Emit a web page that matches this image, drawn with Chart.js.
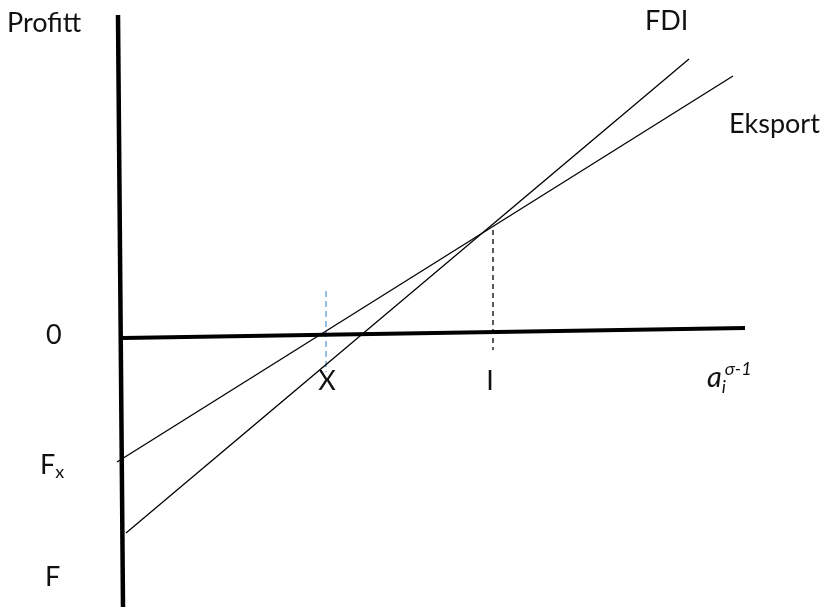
<!DOCTYPE html>
<html>
<head>
<meta charset="utf-8">
<script src="https://cdn.jsdelivr.net/npm/chart.js@4"></script>
<style>
  html, body { margin: 0; padding: 0; background: #fff; }
  #wrap { width: 825px; height: 610px; }
</style>
</head>
<body>
<div id="wrap"><canvas id="chart"></canvas></div>
<script>
// coordinates: origin where the axes cross, x to the right, y (profit) up
const yAxisLine = [{x: -2, y: 323}, {x: 3, y: -269}];
const xAxisLine = [{x: 3, y: 0}, {x: 625, y: 10}];
const eksport = [{x: -3, y: -124}, {x: 613, y: 262}];
const fdi = [{x: 6, y: -195}, {x: 569, y: 279}];
const dashX = [{x: 206, y: 47}, {x: 206, y: -34}];
const dashI = [{x: 373, y: 108}, {x: 373, y: -12}];

// label text and anchor (data units)
const labels = [
  {text: 'Profitt', x: -113, y: 306, align: 'left'},
  {text: 'FDI', x: 525, y: 308, align: 'left'},
  {text: 'Eksport', x: 609, y: 205, align: 'left'},
  {text: '0', x: -74, y: -6, align: 'left'},
  {text: 'X', x: 207, y: -52, align: 'center'},
  {text: 'I', x: 370, y: -52, align: 'center'},
  {text: 'F', x: -75, y: -248, align: 'left'}
];

const font = 'Lato, "Open Sans", sans-serif';

const textPlugin = {
  id: 'textPlugin',
  afterDatasetsDraw(chart) {
    const c = chart.ctx;
    const xs = chart.scales.x, ys = chart.scales.y;
    c.save();
    c.fillStyle = '#111';
    c.textBaseline = 'alphabetic';
    c.font = '27px ' + font;
    labels.forEach(l => {
      c.textAlign = l.align;
      c.fillText(l.text, xs.getPixelForValue(l.x), ys.getPixelForValue(l.y));
    });
    // F with subscript x
    c.textAlign = 'left';
    let px = xs.getPixelForValue(-80), py = ys.getPixelForValue(-136);
    c.font = '27px ' + font;
    c.fillText('F', px, py);
    let w = c.measureText('F').width;
    c.font = '18px ' + font;
    c.fillText('x', px + w, py + 4);
    // a_i^(sigma-1)
    px = xs.getPixelForValue(587); py = ys.getPixelForValue(-49);
    c.font = 'italic 29px ' + font;
    c.fillText('a', px, py);
    w = c.measureText('a').width;
    c.font = 'italic 18px ' + font;
    c.fillText('i', px + w, py + 6);
    c.fillText('\u03c3-1', px + w + 3, py - 12);
    c.restore();
  }
};

function seg(data, width, color, dash) {
  return {
    data: data,
    showLine: true,
    borderColor: color,
    borderWidth: width,
    borderDash: dash || [],
    pointRadius: 0,
    fill: false
  };
}

new Chart(document.getElementById('chart'), {
  type: 'scatter',
  data: {
    datasets: [
      seg(yAxisLine, 4.5, '#000'),
      seg(xAxisLine, 4, '#000'),
      seg(eksport, 1.3, '#000'),
      seg(fdi, 1.3, '#000'),
      seg(dashX, 1.3, '#5b9bd5', [6, 4]),
      seg(dashI, 1.3, '#000', [5, 4])
    ]
  },
  options: {
    responsive: true,
    maintainAspectRatio: false,
    animation: false,
    layout: {padding: 0},
    plugins: {
      legend: {display: false},
      tooltip: {enabled: false}
    },
    scales: {
      x: {type: 'linear', min: -120, max: 705, display: false},
      y: {type: 'linear', min: -272, max: 338, display: false}
    }
  },
  plugins: [textPlugin]
});
</script>
</body>
</html>
